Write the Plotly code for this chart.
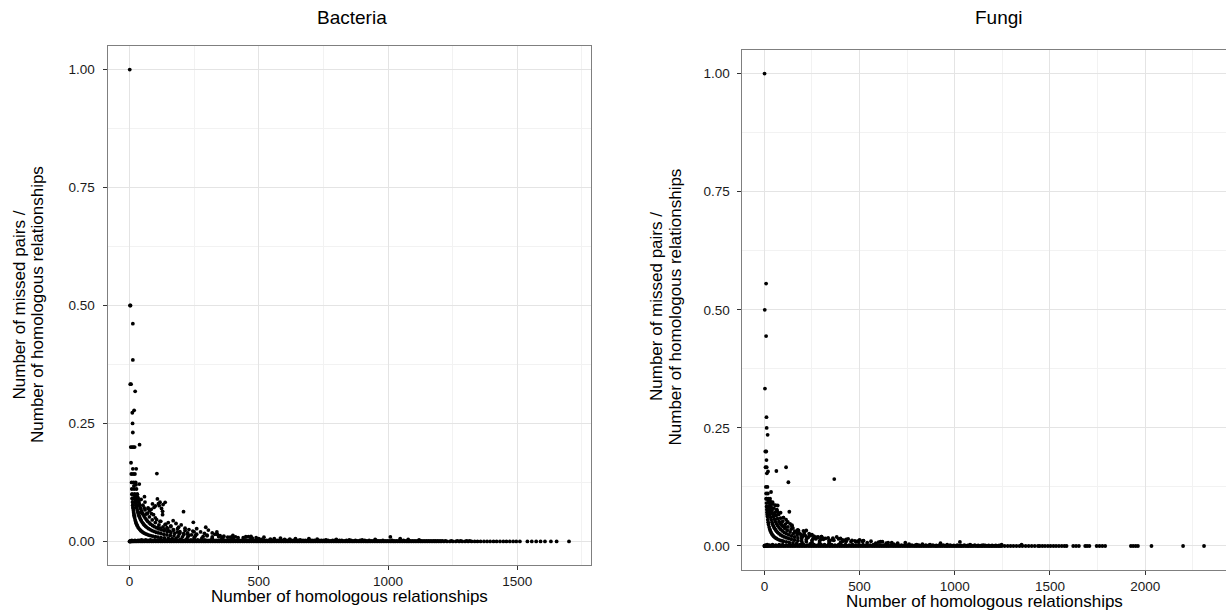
import plotly.graph_objects as go

W, H = 1226, 614

# ---------------- Bacteria data ----------------
bac_zero_x = [0, 1, 2, 3, 5, 8, 12, 17, 23, 29, 36, 44, 51, 59, 68, 76, 85, 93, 102, 111, 120, 128, 137, 146, 155,
              163, 172, 181, 190, 199, 207, 216, 225, 234, 243, 251, 260, 269, 278, 287, 295, 304, 313, 322, 331,
              340, 348, 357, 366, 375, 384, 392, 401, 410, 419, 428, 437, 445, 454, 463, 472, 481, 490, 498, 507,
              516, 525, 534, 543, 551, 560, 569, 578, 587, 596, 604, 613, 622, 631, 640, 649, 657, 666, 675, 684,
              693, 702, 710, 719, 728, 737, 746, 755, 763, 772, 781, 790, 799, 808, 816, 825, 834, 843, 852, 861,
              869, 878, 887, 896, 905, 914, 922, 931, 940, 949, 958, 967, 975, 984, 993, 1002, 1011, 1020, 1028,
              1037, 1046, 1055, 1064, 1073, 1081, 1090, 1099, 1108, 1117, 1126, 1134, 1143, 1152, 1161, 1170, 1179,
              1187, 1196, 1205, 1216, 1228, 1239, 1251, 1262, 1275, 1287, 1298, 1310, 1323, 1335, 1346, 1358, 1371,
              1383, 1395, 1408, 1420, 1433, 1446, 1458, 1471, 1484, 1496, 1510, 1539, 1556, 1573, 1590, 1607, 1630,
              1652, 1700]
bac_zero_y = [0.0] * len(bac_zero_x)

bac_low_x = [4, 9, 15, 21, 27, 33, 40, 47, 55, 63, 72, 81, 89, 98, 107, 116, 124, 133, 142, 151, 159, 168, 177,
             186, 194, 203, 212, 221, 229, 238, 247, 256, 264, 273, 282, 291, 299, 308, 317, 326, 335, 344, 353,
             362, 371, 379, 388, 397, 406, 415, 424, 433, 441, 450, 459, 467, 476, 485, 494, 503, 512, 521, 530,
             538, 547, 556, 565, 574, 583, 592, 600, 609, 618, 627, 636, 645, 653, 662, 671, 680, 689, 698, 706,
             715, 724, 733, 742, 751, 759, 768, 777, 786, 795, 804, 812, 821, 830, 839, 848, 857, 865, 874, 883,
             892, 901, 910, 918, 927, 936, 945, 954, 963, 971, 980, 989, 998, 1007, 1016, 1024, 1033, 1042, 1051,
             1060, 1069, 1077, 1086, 1095, 1104, 1113, 1122, 1130, 1139, 1148, 1157, 1166, 1175, 1183, 1192, 1201,
             1210, 1222, 1245, 1268, 1281, 1304, 1316]
bac_low_y = [0.001, 0.002, 0.001, 0.002, 0.001, 0.002, 0.002, 0.003, 0.002, 0.003, 0.002, 0.003, 0.002, 0.003,
             0.002, 0.003, 0.002, 0.003, 0.002, 0.002, 0.003, 0.002, 0.003, 0.002, 0.003, 0.002, 0.002, 0.003,
             0.002, 0.003, 0.002, 0.002, 0.003, 0.002, 0.002, 0.003, 0.002, 0.002, 0.003, 0.002, 0.002, 0.002,
             0.003, 0.002, 0.002, 0.002, 0.002, 0.003, 0.002, 0.002, 0.002, 0.002, 0.002, 0.003, 0.002, 0.002,
             0.002, 0.002, 0.002, 0.002, 0.002, 0.002, 0.002, 0.002, 0.002, 0.002, 0.002, 0.002, 0.002, 0.002,
             0.002, 0.002, 0.002, 0.002, 0.002, 0.002, 0.002, 0.002, 0.002, 0.002, 0.002, 0.002, 0.002, 0.002,
             0.002, 0.002, 0.002, 0.002, 0.002, 0.002, 0.001, 0.002, 0.002, 0.001, 0.002, 0.002, 0.001, 0.002,
             0.001, 0.002, 0.001, 0.002, 0.001, 0.002, 0.001, 0.002, 0.001, 0.002, 0.001, 0.001, 0.002, 0.001,
             0.001, 0.002, 0.001, 0.001, 0.001, 0.002, 0.001, 0.001, 0.001, 0.001, 0.002, 0.001, 0.001, 0.001,
             0.001, 0.001, 0.001, 0.001, 0.001, 0.001, 0.001, 0.001, 0.001, 0.001, 0.001, 0.001, 0.001, 0.001,
             0.001, 0.001, 0.001, 0.001, 0.001, 0.001, 0.001, 0.001]

bac_top_x = [1, 2, 4, 13, 13, 3, 6, 22, 11, 18, 12, 13, 5, 10, 15, 20, 39, 6, 26, 13, 7, 14, 21, 106, 8, 16, 24,
             17, 25, 38, 9, 18, 27, 10, 20, 30, 11, 22, 33, 58, 12, 24, 36, 13, 26, 39, 14, 28]
bac_top_y = [1.0, 0.5, 0.5, 0.4615, 0.3846, 0.3333, 0.3333, 0.3182, 0.2727, 0.2778, 0.25, 0.2308, 0.2, 0.2, 0.2,
             0.2, 0.2051, 0.1667, 0.1538, 0.1538, 0.1429, 0.1429, 0.1429, 0.1437, 0.125, 0.125, 0.125, 0.1176,
             0.12, 0.1216, 0.1111, 0.1111, 0.1111, 0.1, 0.1, 0.1, 0.0909, 0.0909, 0.0909, 0.0948, 0.0833, 0.0833,
             0.0833, 0.0769, 0.0769, 0.0769, 0.0714, 0.0714]

bac_mid_x = [38, 57, 72, 89, 108, 115, 128, 128, 138, 93, 105, 121, 169, 209, 247, 150, 140, 160, 180, 190, 200,
             215, 230, 245, 260, 275, 295, 305, 320, 338, 330, 350, 365, 390, 420, 450, 475, 500, 520, 64, 70, 78,
             84, 95, 100, 112, 118, 124, 130, 110, 120, 135, 145, 155, 170, 185, 195, 210, 225, 240, 255, 300, 345,
             360, 380, 400, 440, 460, 470, 490, 510, 545, 560, 584, 600, 620, 642, 660, 694, 726, 760, 800, 850,
             900, 950, 1009, 1047, 1078, 1120]
bac_mid_y = [0.0603, 0.071, 0.071, 0.0794, 0.09, 0.0758, 0.0638, 0.0567, 0.0829, 0.0567, 0.046, 0.0426, 0.044,
             0.0631, 0.0405, 0.04, 0.036, 0.033, 0.038, 0.03, 0.035, 0.028, 0.025, 0.022, 0.027, 0.02, 0.03, 0.024,
             0.018, 0.02, 0.015, 0.012, 0.011, 0.009, 0.008, 0.01, 0.007, 0.006, 0.009, 0.058, 0.06, 0.065, 0.068,
             0.072, 0.075, 0.08, 0.083, 0.07, 0.078, 0.03, 0.028, 0.025, 0.029, 0.022, 0.025, 0.02, 0.018, 0.017,
             0.015, 0.014, 0.012, 0.012, 0.01, 0.006, 0.009, 0.007, 0.008, 0.01, 0.006, 0.008, 0.004, 0.005, 0.006,
             0.007, 0.004, 0.005, 0.006, 0.003, 0.006, 0.005, 0.003, 0.004, 0.003, 0.003, 0.004, 0.0095, 0.006,
             0.004, 0.003]

bac_c1_x = [10, 11, 12, 13, 14, 15, 16, 17, 18, 19, 20, 22, 24, 26, 28, 30, 33, 36, 40, 44, 48, 52, 57, 62, 68, 75,
            82, 90, 100, 110, 122, 135, 150, 165, 180, 200, 220, 250, 280, 320]
bac_c1_y = [0.1, 0.0909, 0.0833, 0.0769, 0.0714, 0.0667, 0.0625, 0.0588, 0.0556, 0.0526, 0.05, 0.0455, 0.0417,
            0.0385, 0.0357, 0.0333, 0.0303, 0.0278, 0.025, 0.0227, 0.0208, 0.0192, 0.0175, 0.0161, 0.0147, 0.0133,
            0.0122, 0.0111, 0.01, 0.0091, 0.0082, 0.0074, 0.0067, 0.0061, 0.0056, 0.005, 0.0045, 0.004, 0.0036,
            0.0031]
bac_c2_x = [20, 21, 22, 23, 24, 25, 26, 28, 30, 32, 34, 36, 38, 40, 43, 46, 50, 54, 58, 63, 68, 74, 80, 87, 95, 103,
            112, 122, 133, 145, 158, 172, 188, 205, 225, 250, 280, 320, 360, 400]
bac_c2_y = [0.1, 0.0952, 0.0909, 0.087, 0.0833, 0.08, 0.0769, 0.0714, 0.0667, 0.0625, 0.0588, 0.0556, 0.0526, 0.05,
            0.0465, 0.0435, 0.04, 0.037, 0.0345, 0.0317, 0.0294, 0.027, 0.025, 0.023, 0.0211, 0.0194, 0.0179,
            0.0164, 0.015, 0.0138, 0.0127, 0.0116, 0.0106, 0.0098, 0.0089, 0.008, 0.0071, 0.0063, 0.0056, 0.005]
bac_c3_x = [30, 32, 34, 36, 38, 40, 43, 46, 49, 52, 56, 60, 65, 70, 76, 82, 89, 96, 104, 113, 123, 134, 146, 160,
            175, 192, 210, 230, 255, 285, 320, 360, 400]
bac_c3_y = [0.1, 0.0938, 0.0882, 0.0833, 0.0789, 0.075, 0.0698, 0.0652, 0.0612, 0.0577, 0.0536, 0.05, 0.0462,
            0.0429, 0.0395, 0.0366, 0.0337, 0.0313, 0.0288, 0.0265, 0.0244, 0.0224, 0.0205, 0.0188, 0.0171, 0.0156,
            0.0143, 0.013, 0.0118, 0.0105, 0.0094, 0.0083, 0.0075]
bac_c4_x = [45, 52, 60, 68, 77, 88, 100, 114, 130, 148, 170, 195, 225, 260, 300, 350, 410]
bac_c4_y = [0.0889, 0.0769, 0.0667, 0.0588, 0.0519, 0.0455, 0.04, 0.0351, 0.0308, 0.027, 0.0235, 0.0205, 0.0178,
            0.0154, 0.0133, 0.0114, 0.0098]
bac_c5_x = [60, 72, 85, 100, 118, 138, 160, 186, 215, 250, 290, 340, 400, 470]
bac_c5_y = [0.0833, 0.0694, 0.0588, 0.05, 0.0424, 0.0362, 0.0313, 0.0269, 0.0233, 0.02, 0.0172, 0.0147, 0.0125,
            0.0106]

# ---------------- Fungi data ----------------
fun_zero_x = [0, 1, 2, 3, 4, 6, 9, 13, 18, 24, 31, 39, 47, 56, 65, 74, 83, 92, 101, 110, 120, 129, 138, 147, 156,
              165, 175, 184, 193, 202, 211, 220, 230, 239, 248, 257, 266, 275, 285, 294, 303, 312, 321, 330, 340,
              349, 358, 367, 376, 385, 395, 404, 413, 422, 431, 440, 450, 459, 468, 477, 486, 495, 505, 514, 523,
              532, 541, 550, 560, 569, 578, 587, 596, 605, 615, 624, 633, 642, 651, 660, 670, 679, 688, 697, 706,
              715, 725, 734, 743, 752, 761, 770, 780, 789, 798, 807, 816, 825, 835, 844, 853, 862, 871, 880, 890,
              899, 908, 917, 926, 935, 945, 954, 963, 972, 981, 990, 1000, 1009, 1018, 1027, 1036, 1045, 1055, 1064,
              1073, 1082, 1091, 1100, 1110, 1119, 1128, 1137, 1146, 1155, 1165, 1174, 1183, 1192, 1201, 1210, 1220,
              1229, 1238, 1247, 1262, 1278, 1293, 1308, 1324, 1340, 1355, 1372, 1388, 1404, 1420, 1437, 1446, 1460,
              1474, 1489, 1503, 1518, 1532, 1547, 1562, 1576, 1587, 1622, 1637, 1652, 1685, 1695, 1707, 1745, 1760,
              1775, 1790, 1925, 1937, 1950, 1962, 2033, 2199, 2309]
fun_zero_y = [0.0] * len(fun_zero_x)

fun_low_x = [5, 15, 27, 43, 60, 78, 96, 115, 133, 151, 170, 188, 206, 225, 243, 261, 280, 298, 316, 335, 353, 371,
             390, 408, 426, 445, 463, 481, 500, 518, 536, 555, 573, 591, 610, 628, 646, 665, 683, 701, 720, 738,
             756, 775, 793, 811, 830, 848, 866, 885, 903, 921, 940, 958, 976, 995, 1013, 1031, 1050, 1068, 1086,
             1105, 1123, 1141, 1160, 1178, 1196, 1215, 1233]
fun_low_y = [0.002, 0.003, 0.002, 0.003, 0.002, 0.003, 0.003, 0.002, 0.003, 0.003, 0.002, 0.003, 0.003, 0.002,
             0.003, 0.003, 0.002, 0.003, 0.003, 0.002, 0.003, 0.002, 0.003, 0.002, 0.003, 0.002, 0.003, 0.002,
             0.002, 0.003, 0.002, 0.002, 0.003, 0.002, 0.002, 0.002, 0.003, 0.002, 0.002, 0.002, 0.002, 0.002,
             0.002, 0.002, 0.002, 0.002, 0.002, 0.002, 0.002, 0.002, 0.001, 0.002, 0.002, 0.001, 0.002, 0.001,
             0.002, 0.001, 0.002, 0.001, 0.001, 0.002, 0.001, 0.001, 0.001, 0.001, 0.001, 0.001, 0.001]

fun_top_x = [1, 9, 2, 9, 3, 11, 12, 17, 5, 10, 11, 6, 12, 63, 114, 19, 13, 126, 367, 8, 16, 9, 18, 35, 10, 20, 30,
             43, 12, 24, 65, 70, 52, 35, 131]
fun_top_y = [1.0, 0.5556, 0.5, 0.4444, 0.3333, 0.2727, 0.25, 0.2353, 0.2, 0.2, 0.1818, 0.1667, 0.1667, 0.1587,
             0.1667, 0.1579, 0.1538, 0.1349, 0.1417, 0.125, 0.125, 0.1111, 0.1111, 0.1143, 0.1, 0.1, 0.1, 0.093,
             0.0833, 0.0833, 0.0769, 0.0714, 0.0673, 0.0714, 0.0725]

fun_mid_x = [114, 123, 135, 145, 179, 205, 220, 235, 247, 282, 320, 360, 400, 440, 500, 560, 600, 669, 80, 90, 100,
             110, 150, 160, 170, 190, 200, 215, 230, 260, 270, 300, 340, 380, 420, 460, 480, 520, 620, 640, 700,
             280, 310, 335, 365, 390, 410, 430, 455, 475, 495, 515, 540, 585, 610, 650, 680, 740, 760, 800, 830,
             870, 925, 960, 1027, 1080, 1150, 1246, 1351]
fun_mid_y = [0.0556, 0.0508, 0.047, 0.044, 0.033, 0.032, 0.033, 0.026, 0.023, 0.019, 0.016, 0.013, 0.016, 0.015,
             0.013, 0.01, 0.008, 0.007, 0.05, 0.045, 0.06, 0.04, 0.038, 0.03, 0.028, 0.025, 0.02, 0.022, 0.018,
             0.021, 0.015, 0.02, 0.012, 0.019, 0.011, 0.012, 0.009, 0.011, 0.009, 0.006, 0.006, 0.018, 0.014, 0.017,
             0.012, 0.015, 0.013, 0.01, 0.009, 0.011, 0.008, 0.01, 0.007, 0.006, 0.009, 0.007, 0.004, 0.007, 0.004,
             0.003, 0.004, 0.003, 0.006, 0.003, 0.0085, 0.003, 0.002, 0.003, 0.003]

fun_c1_x = [10, 11, 12, 13, 14, 15, 16, 18, 20, 22, 25, 28, 31, 35, 40, 45, 50, 56, 63, 71, 80, 90, 100, 115, 130,
            150, 170, 200, 240, 290]
fun_c1_y = [0.1, 0.0909, 0.0833, 0.0769, 0.0714, 0.0667, 0.0625, 0.0556, 0.05, 0.0455, 0.04, 0.0357, 0.0323,
            0.0286, 0.025, 0.0222, 0.02, 0.0179, 0.0159, 0.0141, 0.0125, 0.0111, 0.01, 0.0087, 0.0077, 0.0067,
            0.0059, 0.005, 0.0042, 0.0034]
fun_c2_x = [21, 22, 24, 26, 28, 30, 33, 36, 40, 44, 48, 53, 58, 64, 70, 77, 85, 94, 104, 115, 128, 142, 158, 176,
            196, 220, 250, 290, 340]
fun_c2_y = [0.0952, 0.0909, 0.0833, 0.0769, 0.0714, 0.0667, 0.0606, 0.0556, 0.05, 0.0455, 0.0417, 0.0377, 0.0345,
            0.0313, 0.0286, 0.026, 0.0235, 0.0213, 0.0192, 0.0174, 0.0156, 0.0141, 0.0127, 0.0114, 0.0102, 0.0091,
            0.008, 0.0069, 0.0059]
fun_c3_x = [32, 34, 37, 40, 44, 48, 53, 58, 64, 70, 77, 85, 94, 104, 115, 128, 142, 158, 176, 196, 220, 250, 290,
            340, 400]
fun_c3_y = [0.0938, 0.0882, 0.0811, 0.075, 0.0682, 0.0625, 0.0566, 0.0517, 0.0469, 0.0429, 0.039, 0.0353, 0.0319,
            0.0288, 0.0261, 0.0234, 0.0211, 0.019, 0.017, 0.0153, 0.0136, 0.012, 0.0103, 0.0088, 0.0075]
fun_c4_x = [45, 50, 56, 62, 69, 77, 86, 96, 107, 120, 135, 152, 172, 195, 222, 255, 295, 345, 410]
fun_c4_y = [0.0889, 0.08, 0.0714, 0.0645, 0.058, 0.0519, 0.0465, 0.0417, 0.0374, 0.0333, 0.0296, 0.0263, 0.0233,
            0.0205, 0.018, 0.0157, 0.0136, 0.0116, 0.0098]
fun_c5_x = [58, 66, 75, 85, 96, 109, 124, 141, 160, 182, 207, 236, 270, 310, 360, 420, 490]
fun_c5_y = [0.0862, 0.0758, 0.0667, 0.0588, 0.0521, 0.0459, 0.0403, 0.0355, 0.0313, 0.0275, 0.0242, 0.0212,
            0.0185, 0.0161, 0.0139, 0.0119, 0.0102]
fun_c6_x = [70, 85, 100, 120, 145, 175, 210, 250, 300, 360, 430, 520]
fun_c6_y = [0.0857, 0.0706, 0.06, 0.05, 0.0414, 0.0343, 0.0286, 0.024, 0.02, 0.0167, 0.014, 0.0115]

# ---------------- axes / labels ----------------
y_ticks = [0, 0.25, 0.5, 0.75, 1.0]
y_ticktext = ["0.00", "0.25", "0.50", "0.75", "1.00"]
y_minor = [0.125, 0.375, 0.625, 0.875]
bac_xticks = [0, 500, 1000, 1500]
bac_xminor = [250, 750, 1250, 1750]
fun_xticks = [0, 500, 1000, 1500, 2000]
fun_xminor = [250, 750, 1250, 1750, 2250]

FONT = "Liberation Sans, Arial, Helvetica, sans-serif"


def px(x):
    return x / W


def py(y):
    return 1 - y / H


fig = go.Figure()
marker = dict(color="black", size=3.8, line=dict(width=0))

bac_sets = [(bac_zero_x, bac_zero_y), (bac_low_x, bac_low_y), (bac_c1_x, bac_c1_y), (bac_c2_x, bac_c2_y),
            (bac_c3_x, bac_c3_y), (bac_c4_x, bac_c4_y), (bac_c5_x, bac_c5_y), (bac_mid_x, bac_mid_y),
            (bac_top_x, bac_top_y)]
fun_sets = [(fun_zero_x, fun_zero_y), (fun_low_x, fun_low_y), (fun_c1_x, fun_c1_y), (fun_c2_x, fun_c2_y),
            (fun_c3_x, fun_c3_y), (fun_c4_x, fun_c4_y), (fun_c5_x, fun_c5_y), (fun_c6_x, fun_c6_y),
            (fun_mid_x, fun_mid_y), (fun_top_x, fun_top_y)]

for xs, ys in bac_sets:
    fig.add_trace(go.Scatter(x=xs, y=ys, mode="markers", marker=marker, xaxis="x", yaxis="y",
                             showlegend=False, hoverinfo="skip"))
for xs, ys in fun_sets:
    fig.add_trace(go.Scatter(x=xs, y=ys, mode="markers", marker=marker, xaxis="x2", yaxis="y2",
                             showlegend=False, hoverinfo="skip", cliponaxis=False))

common = dict(showline=True, linecolor="#7f7f7f", linewidth=1, mirror=True, ticks="outside", ticklen=4,
              tickcolor="#333333", tickwidth=1, showgrid=True, gridcolor="#e4e4e4", gridwidth=1, zeroline=False,
              tickfont=dict(family=FONT, size=13.5, color="#1a1a1a"))
minor_style = dict(showgrid=True, gridcolor="#f2f2f2", gridwidth=1, ticks="")

fig.update_layout(
    width=W, height=H, margin=dict(l=0, r=0, t=0, b=0),
    paper_bgcolor="white", plot_bgcolor="white",
    xaxis=dict(domain=[px(107.5), px(591)], range=[-85, 1785], tickvals=bac_xticks, anchor="y",
               minor=dict(tickvals=bac_xminor, **minor_style), **common),
    yaxis=dict(domain=[py(565), py(46)], range=[-0.05, 1.05], tickvals=y_ticks, ticktext=y_ticktext, anchor="x",
               ticklabelstandoff=5, minor=dict(tickvals=y_minor, **minor_style), **common),
    xaxis2=dict(domain=[px(742.4), 1.0], range=[-115.45, 2424.45], tickvals=fun_xticks, anchor="y2",
                minor=dict(tickvals=fun_xminor, **minor_style), **common),
    yaxis2=dict(domain=[py(569.6), py(50)], range=[-0.05, 1.05], tickvals=y_ticks, ticktext=y_ticktext,
                anchor="x2", ticklabelstandoff=5, minor=dict(tickvals=y_minor, **minor_style), **common),
)

ann_font = dict(family=FONT, size=17, color="black")
title_font = dict(family=FONT, size=19, color="black")
annotations = [
    dict(text="Bacteria", x=px(352), y=py(17.6), font=title_font),
    dict(text="Fungi", x=px(999), y=py(17.6), font=title_font),
    dict(text="Number of homologous relationships", x=px(349), y=py(596), font=ann_font),
    dict(text="Number of homologous relationships", x=px(984.4), y=py(601), font=ann_font),
    dict(text="Number of missed pairs /", x=px(18.5), y=py(305), font=ann_font, textangle=-90),
    dict(text="Number of homologous relationships", x=px(37), y=py(305), font=ann_font, textangle=-90),
    dict(text="Number of missed pairs /", x=px(656), y=py(307), font=ann_font, textangle=-90),
    dict(text="Number of homologous relationships", x=px(674.5), y=py(307), font=ann_font, textangle=-90),
]
for a in annotations:
    fig.add_annotation(xref="paper", yref="paper", showarrow=False, xanchor="center", yanchor="middle", **a)

fig.write_html("out.html")
